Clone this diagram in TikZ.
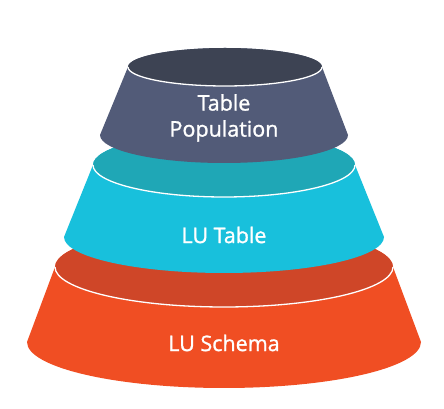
\documentclass[tikz,border=0pt]{standalone}
\usepackage{fontspec}
\setmainfont{Open Sans}
\newfontfamily\labelfont{Open Sans}[FakeBold=1.2]
\usepackage{tikz}
\usetikzlibrary{positioning}

\definecolor{slatetop}{HTML}{3D4353}
\definecolor{slatebody}{HTML}{525B78}
\definecolor{tealtop}{HTML}{1FA7B6}
\definecolor{tealbody}{HTML}{18C0DC}
\definecolor{redtop}{HTML}{CF4628}
\definecolor{redbody}{HTML}{F04E23}

\begin{document}
\begin{tikzpicture}[x=1pt, y=1pt,
    tierlabel/.style={text=white, font=\labelfont\fontsize{21.5}{26}\selectfont, align=center},
    rimline/.style={draw=white, line width=1.3pt}]
    \useasboundingbox (0,0) rectangle (444,409);

    % Bottom tier
    \fill[redbody] (55,142) -- (27,67) arc[start angle=180, end angle=360, x radius=197, y radius=46]
        -- (393,142) arc[start angle=0, end angle=180, x radius=169, y radius=40] -- cycle;
    \fill[redtop] (224,142) ellipse[x radius=169, y radius=40];
    \draw[rimline] (55,142) arc[start angle=180, end angle=360, x radius=169, y radius=40];
    \node[tierlabel] (schema) at (224,66) {LU Schema};

    % Middle tier
    \fill[tealbody] (93,244) -- (64,172) arc[start angle=180, end angle=360, x radius=160, y radius=36]
        -- (355,244) arc[start angle=0, end angle=180, x radius=131, y radius=32] -- cycle;
    \fill[tealtop] (224,244) ellipse[x radius=131, y radius=32];
    \draw[rimline] (93,244) arc[start angle=180, end angle=360, x radius=131, y radius=32];
    \node[tierlabel] (lutable) at (224,174) {LU Table};

    % Top tier
    \fill[slatebody] (128,342) -- (100,274) arc[start angle=180, end angle=360, x radius=124, y radius=28]
        -- (322,342) arc[start angle=0, end angle=180, x radius=97, y radius=19] -- cycle;
    \fill[slatetop] (225,342) ellipse[x radius=97, y radius=19];
    \draw[rimline] (128,342) arc[start angle=180, end angle=360, x radius=97, y radius=19];
    \node[tierlabel] (population) at (224,291) {Table\\Population};
\end{tikzpicture}
\end{document}
